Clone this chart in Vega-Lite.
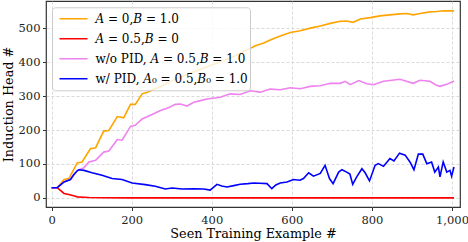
{
  "$schema": "https://vega.github.io/schema/vega-lite/v6.json",
  "width": 414,
  "height": 206,
  "autosize": "none",
  "padding": {"left": 46, "top": 1, "right": 8, "bottom": 35},
  "background": "white",
  "config": {
    "font": "DejaVu Serif",
    "view": {"stroke": "#333333", "strokeWidth": 1.2},
    "axis": {
      "labelFont": "DejaVu Serif", "titleFont": "DejaVu Serif",
      "labelFontSize": 11.5, "titleFontSize": 12.8, "titleFontWeight": "normal",
      "labelColor": "#222", "titleColor": "#000",
      "grid": true, "gridColor": "#d0d0d0", "gridDash": [3, 2], "gridWidth": 0.8,
      "domain": false, "tickColor": "#333", "tickSize": 3.5, "tickWidth": 1
    }
  },
  "data": {"values": [
    {"s":"o","x":0,"y":30},{"s":"o","x":14,"y":30},{"s":"o","x":31,"y":54},{"s":"o","x":43,"y":57},{"s":"o","x":64,"y":103},{"s":"o","x":76,"y":106},{"s":"o","x":97,"y":145},{"s":"o","x":110,"y":148},{"s":"o","x":130,"y":197},{"s":"o","x":143,"y":199},{"s":"o","x":164,"y":240},{"s":"o","x":180,"y":236},{"s":"o","x":197,"y":276},{"s":"o","x":209,"y":276},{"s":"o","x":226,"y":307},{"s":"o","x":239,"y":312},{"s":"o","x":249,"y":317},{"s":"o","x":275,"y":330},{"s":"o","x":301,"y":346},{"s":"o","x":350,"y":370},{"s":"o","x":400,"y":392},{"s":"o","x":450,"y":415},{"s":"o","x":484,"y":434},{"s":"o","x":509,"y":449},{"s":"o","x":530,"y":457},{"s":"o","x":546,"y":466},{"s":"o","x":571,"y":478},{"s":"o","x":596,"y":488},{"s":"o","x":621,"y":493},{"s":"o","x":646,"y":501},{"s":"o","x":671,"y":507},{"s":"o","x":696,"y":515},{"s":"o","x":721,"y":521},{"s":"o","x":737,"y":522},{"s":"o","x":753,"y":518},{"s":"o","x":771,"y":528},{"s":"o","x":796,"y":532},{"s":"o","x":820,"y":537},{"s":"o","x":845,"y":540},{"s":"o","x":870,"y":543},{"s":"o","x":887,"y":544},{"s":"o","x":903,"y":540},{"s":"o","x":920,"y":544},{"s":"o","x":945,"y":549},{"s":"o","x":962,"y":550},{"s":"o","x":978,"y":552},{"s":"o","x":1005,"y":552},
    {"s":"r","x":0,"y":30},{"s":"r","x":14,"y":30},{"s":"r","x":22,"y":22},{"s":"r","x":31,"y":13},{"s":"r","x":43,"y":10},{"s":"r","x":55,"y":6},{"s":"r","x":64,"y":3},{"s":"r","x":80,"y":2},{"s":"r","x":93,"y":1},{"s":"r","x":130,"y":0.5},{"s":"r","x":200,"y":0},{"s":"r","x":1005,"y":0},
    {"s":"v","x":0,"y":30},{"s":"v","x":14,"y":30},{"s":"v","x":31,"y":47},{"s":"v","x":47,"y":54},{"s":"v","x":64,"y":80},{"s":"v","x":68,"y":83},{"s":"v","x":80,"y":88},{"s":"v","x":93,"y":106},{"s":"v","x":110,"y":111},{"s":"v","x":130,"y":135},{"s":"v","x":143,"y":138},{"s":"v","x":164,"y":172},{"s":"v","x":176,"y":170},{"s":"v","x":197,"y":211},{"s":"v","x":209,"y":214},{"s":"v","x":226,"y":233},{"s":"v","x":251,"y":246},{"s":"v","x":272,"y":258},{"s":"v","x":292,"y":266},{"s":"v","x":309,"y":276},{"s":"v","x":322,"y":277},{"s":"v","x":338,"y":271},{"s":"v","x":355,"y":282},{"s":"v","x":372,"y":287},{"s":"v","x":388,"y":292},{"s":"v","x":421,"y":297},{"s":"v","x":446,"y":307},{"s":"v","x":471,"y":305},{"s":"v","x":496,"y":316},{"s":"v","x":521,"y":312},{"s":"v","x":546,"y":321},{"s":"v","x":571,"y":319},{"s":"v","x":596,"y":325},{"s":"v","x":621,"y":322},{"s":"v","x":646,"y":329},{"s":"v","x":671,"y":331},{"s":"v","x":696,"y":338},{"s":"v","x":721,"y":338},{"s":"v","x":733,"y":344},{"s":"v","x":746,"y":334},{"s":"v","x":767,"y":346},{"s":"v","x":787,"y":337},{"s":"v","x":804,"y":334},{"s":"v","x":829,"y":344},{"s":"v","x":850,"y":347},{"s":"v","x":870,"y":350},{"s":"v","x":903,"y":338},{"s":"v","x":920,"y":347},{"s":"v","x":945,"y":344},{"s":"v","x":960,"y":333},{"s":"v","x":970,"y":329},{"s":"v","x":987,"y":335},{"s":"v","x":1005,"y":345},
    {"s":"b","x":0,"y":30},{"s":"b","x":14,"y":30},{"s":"b","x":31,"y":47},{"s":"b","x":47,"y":54},{"s":"b","x":55,"y":68},{"s":"b","x":64,"y":80},{"s":"b","x":68,"y":83},{"s":"b","x":81,"y":81},{"s":"b","x":101,"y":74},{"s":"b","x":126,"y":67},{"s":"b","x":151,"y":57},{"s":"b","x":176,"y":54},{"s":"b","x":201,"y":44},{"s":"b","x":234,"y":39},{"s":"b","x":259,"y":34},{"s":"b","x":284,"y":26},{"s":"b","x":301,"y":29},{"s":"b","x":326,"y":26},{"s":"b","x":355,"y":27},{"s":"b","x":380,"y":26},{"s":"b","x":396,"y":23},{"s":"b","x":413,"y":40},{"s":"b","x":425,"y":35},{"s":"b","x":438,"y":32},{"s":"b","x":455,"y":36},{"s":"b","x":471,"y":40},{"s":"b","x":490,"y":42},{"s":"b","x":505,"y":44},{"s":"b","x":520,"y":43},{"s":"b","x":538,"y":42},{"s":"b","x":550,"y":27},{"s":"b","x":560,"y":38},{"s":"b","x":571,"y":44},{"s":"b","x":588,"y":47},{"s":"b","x":604,"y":54},{"s":"b","x":620,"y":52},{"s":"b","x":629,"y":57},{"s":"b","x":642,"y":74},{"s":"b","x":654,"y":64},{"s":"b","x":671,"y":72},{"s":"b","x":683,"y":96},{"s":"b","x":694,"y":57},{"s":"b","x":703,"y":42},{"s":"b","x":717,"y":76},{"s":"b","x":725,"y":83},{"s":"b","x":737,"y":76},{"s":"b","x":745,"y":70},{"s":"b","x":752,"y":40},{"s":"b","x":762,"y":62},{"s":"b","x":775,"y":86},{"s":"b","x":783,"y":74},{"s":"b","x":794,"y":50},{"s":"b","x":808,"y":96},{"s":"b","x":816,"y":101},{"s":"b","x":829,"y":93},{"s":"b","x":845,"y":116},{"s":"b","x":855,"y":109},{"s":"b","x":869,"y":132},{"s":"b","x":883,"y":126},{"s":"b","x":895,"y":106},{"s":"b","x":905,"y":83},{"s":"b","x":916,"y":129},{"s":"b","x":927,"y":129},{"s":"b","x":937,"y":101},{"s":"b","x":949,"y":106},{"s":"b","x":957,"y":76},{"s":"b","x":966,"y":91},{"s":"b","x":970,"y":62},{"s":"b","x":978,"y":106},{"s":"b","x":987,"y":76},{"s":"b","x":995,"y":81},{"s":"b","x":999,"y":64},{"s":"b","x":1005,"y":91}
  ]},
  "mark": {"type": "line", "interpolate": "linear"},
  "encoding": {
    "x": {"field": "x", "type": "quantitative", "scale": {"domain": [-14, 1020], "nice": false, "zero": false},
      "axis": {"values": [0, 200, 400, 600, 800, 1000], "title": "Seen Training Example #", "titleY": 30, "titleBaseline": "alphabetic", "labelPadding": 4}},
    "y": {"field": "y", "type": "quantitative", "scale": {"domain": [-27, 581], "nice": false, "zero": false},
      "axis": {"values": [0, 100, 200, 300, 400, 500], "title": "Induction Head #", "titleX": -33.3, "titleBaseline": "alphabetic", "labelPadding": 2.5}},
    "color": {"field": "s", "type": "nominal",
      "scale": {"domain": ["o", "r", "v", "b"], "range": ["#FFA500", "#FF0000", "#EE82EE", "#0000FF"]},
      "legend": {
        "title": null, "orient": "none", "legendX": 6, "legendY": 6.3,
        "symbolType": "stroke", "symbolSize": 784, "symbolStrokeWidth": 2, "symbolOffset": 5,
        "clipHeight": 20,
        "labelFont": "DejaVu Serif", "labelFontSize": 12, "labelColor": "#000", "labelLimit": 400,
        "labelExpr": "datum.value == 'o' ? '𝐴 = 0,𝐵 = 1.0' : datum.value == 'r' ? '𝐴 = 0.5,𝐵 = 0' : datum.value == 'v' ? 'w/o PID, 𝐴 = 0.5,𝐵 = 1.0' : 'w/ PID, 𝐴₀ = 0.5,𝐵₀ = 1.0'",
        "fillColor": "rgba(255,255,255,0.8)", "strokeColor": "#cccccc", "cornerRadius": 3,
        "padding": 1.5, "rowPadding": 0, "labelOffset": 7
      }},
    "strokeWidth": {"field": "s", "type": "nominal", "scale": {"domain": ["o", "r", "v", "b"], "range": [1.6, 1.6, 1.6, 2.5]}, "legend": null}
  }
}
